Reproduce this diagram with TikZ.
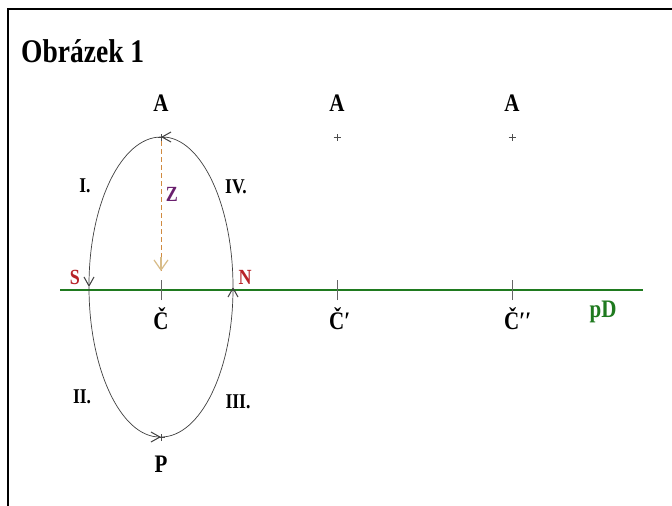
\documentclass[tikz,border=0pt]{standalone}
\usepackage{fontspec}
\setmainfont{Liberation Serif}
\usetikzlibrary{arrows.meta}
\definecolor{dgreen}{HTML}{1F7A1F}
\definecolor{dred}{HTML}{B82228}
\definecolor{dpurple}{HTML}{6A1F6E}
\definecolor{zcol}{HTML}{D08A40}
\definecolor{zarrow}{HTML}{D8BC88}
\newcommand{\tallt}[1]{\scalebox{1}[1.2]{#1}}
\tikzset{
  lbl/.style={font=\bfseries\fontsize{21}{23}\selectfont, inner sep=0pt},
  roman/.style={font=\bfseries\fontsize{17.5}{19}\selectfont, inner sep=0pt},
  pole/.style={font=\bfseries\fontsize{18}{20}\selectfont, inner sep=0pt, text=dred},
  orbit/.style={draw=black!75, line width=0.7pt, -{Straight Barb[length=9pt,width=10pt,line width=1pt]}},
  tick/.style={draw=black!60, line width=0.6pt},
  plusmark/.style={draw=black!70, line width=0.6pt},
}
\begin{document}
\begin{tikzpicture}[x=1pt,y=-1pt]
\useasboundingbox (0,0) rectangle (672,506);
\fill[white] (0,0) rectangle (672,506);
% frame
\draw[line width=2pt] (8,506) -- (8,8.5) -- (672,8.5);
% title
\node[anchor=base west, inner sep=0pt, font=\bfseries\fontsize{27.5}{30}\selectfont] (title) at (21,62) {\tallt{Obrázek 1}};
% points
\coordinate (A1) at (161,137);
\coordinate (A2) at (337,137);
\coordinate (A3) at (512,137);
\coordinate (C1) at (161,290);
\coordinate (C2) at (337,290);
\coordinate (C3) at (512,290);
\coordinate (Pp) at (161,437);
\coordinate (Zstart) at (161,141);
\coordinate (Zend) at (161,271);
\coordinate (Zarr) at (161,257);
% plus marks
\foreach \p in {A1,A2,A3,Pp}{
  \draw[plusmark] ([xshift=-3.5pt]\p) -- ([xshift=3.5pt]\p);
  \draw[plusmark] ([yshift=-3.5pt]\p) -- ([yshift=3.5pt]\p);
}
% zenith distance
\draw[zcol, line width=1pt, dash pattern=on 5pt off 3pt] (Zstart) -- (Zend);
\draw[zarrow, line width=1.2pt, -{Straight Barb[length=10pt,width=14pt,line width=1.2pt]}] (Zarr) -- (Zend);
% horizon
\draw[dgreen, line width=2.6pt] (60,290) -- (643,290);
\foreach \p in {C1,C2,C3}{
  \draw[tick] ([yshift=-10pt]\p) -- ([yshift=10pt]\p);
}
% orbit (ellipse) in four arcs
\draw[orbit] (A1) arc[start angle=90, end angle=180, x radius=72, y radius=-150];
\draw[orbit] (161,287) ++(180:72 and -150) arc[start angle=180, end angle=270, x radius=72, y radius=-150];
\draw[orbit] (Pp) arc[start angle=270, end angle=360, x radius=72, y radius=-150];
\draw[orbit] (161,287) ++(0:72 and -150) arc[start angle=0, end angle=90, x radius=72, y radius=-150];
% labels
\node[lbl] (lA1) at (161,103) {\tallt{A}};
\node[lbl] (lA2) at (337,103) {\tallt{A}};
\node[lbl] (lA3) at (512,103) {\tallt{A}};
\node[lbl] (lC1) at (161,319) {\tallt{Č}};
\node[lbl, anchor=west] (lC2) at (329,319) {\tallt{Č′}};
\node[lbl, anchor=west] (lC3) at (504,319) {\tallt{Č′′}};
\node[lbl] (lP) at (161,464) {\tallt{P}};
\node[lbl, text=dgreen] (lpD) at (603,312) {\tallt{pD}};
\node[pole] (lS) at (75,277) {\tallt{S}};
\node[pole] (lN) at (245,277) {\tallt{N}};
\node[pole, text=dpurple] (lZ) at (172,194) {\tallt{Z}};
\node[roman] (r1) at (85,186) {\tallt{I.}};
\node[roman] (r4) at (236,187) {\tallt{IV.}};
\node[roman] (r2) at (82,397) {\tallt{II.}};
\node[roman] (r3) at (238,402) {\tallt{III.}};
\end{tikzpicture}
\end{document}
